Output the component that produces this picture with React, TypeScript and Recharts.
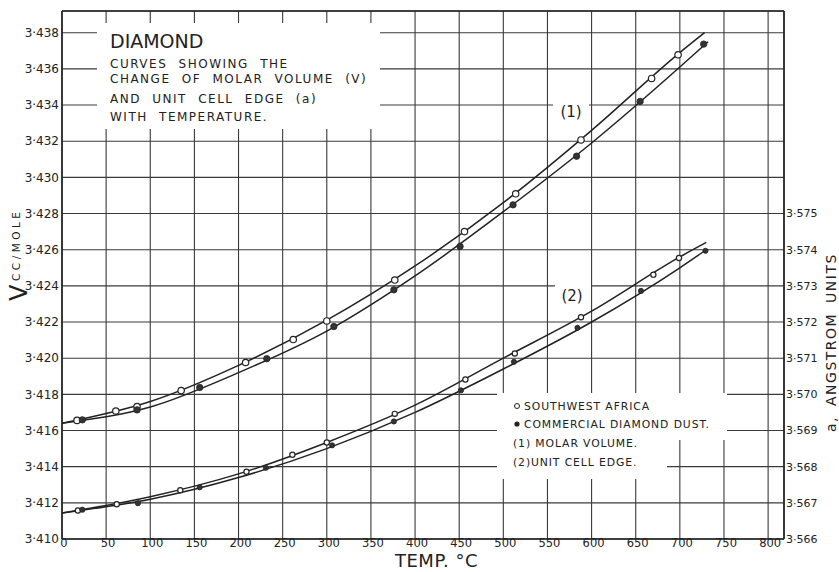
import React from 'react';
import { ComposedChart, Line, XAxis, YAxis, CartesianGrid, ReferenceLine } from 'recharts';

// axis ticks
const tempTicks = [0, 50, 100, 150, 200, 250, 300, 350, 400, 450, 500, 550, 600, 650, 700, 750, 800];
const volTicks = [3.41, 3.412, 3.414, 3.416, 3.418, 3.42, 3.422, 3.424, 3.426, 3.428, 3.43, 3.432, 3.434, 3.436, 3.438];
const edgeTicks = [3.566, 3.567, 3.568, 3.569, 3.57, 3.571, 3.572, 3.573, 3.574, 3.575];

const TEMP_MAX = 818;
const VOL_MIN = 3.41;
const VOL_MAX = 3.4392;
const EDGE_MIN = 3.566;
const EDGE_MAX = 3.5806;

// (1) molar volume, cc/mole
const molarSwAfricaT = [17, 61, 85, 135, 208, 262, 300, 377, 456, 514, 588, 668, 698];
const molarSwAfricaV = [3.41656, 3.41708, 3.41732, 3.41821, 3.41976, 3.42103, 3.42206, 3.42432, 3.427, 3.42909, 3.43207, 3.43547, 3.43678];
const molarDustT = [23, 85, 156, 232, 308, 376, 451, 511, 583, 655, 727];
const molarDustV = [3.41659, 3.41714, 3.41838, 3.41997, 3.42175, 3.42378, 3.42618, 3.42848, 3.43117, 3.4342, 3.43737];

// (2) unit cell edge, angstrom
const edgeSwAfricaT = [18, 62, 134, 209, 261, 300, 377, 457, 513, 588, 670, 699];
const edgeSwAfricaA = [3.56679, 3.56696, 3.56735, 3.56786, 3.56833, 3.56867, 3.56946, 3.57041, 3.57113, 3.57213, 3.57331, 3.57377];
const edgeDustT = [23, 86, 156, 231, 306, 376, 452, 512, 584, 656, 729];
const edgeDustA = [3.56681, 3.56699, 3.56743, 3.56797, 3.56859, 3.56925, 3.57011, 3.5709, 3.57184, 3.57286, 3.57397];

// drawn curves
const molarUpperT = [0, 100, 200, 300, 400, 500, 600, 700, 728];
const molarUpperV = [3.4164, 3.4176, 3.4196, 3.4221, 3.4251, 3.4286, 3.4326, 3.4369, 3.438];
const molarLowerT = [0, 100, 200, 300, 400, 500, 600, 700, 732];
const molarLowerV = [3.4164, 3.4173, 3.4192, 3.4215, 3.42455, 3.4281, 3.4319, 3.4361, 3.4375];
const edgeUpperT = [0, 100, 200, 300, 400, 500, 600, 700, 730];
const edgeUpperA = [3.56672, 3.56717, 3.5678, 3.56867, 3.5697, 3.571, 3.5723, 3.5738, 3.5742];
const edgeLowerT = [0, 100, 200, 300, 400, 500, 600, 700, 730];
const edgeLowerA = [3.56672, 3.5671, 3.5677, 3.5685, 3.5695, 3.5707, 3.572, 3.5735, 3.574];

const pairs = (ts: number[], ys: number[]) => ts.map((t, i) => ({ t, y: ys[i] }));

const FONT = '"DejaVu Sans", sans-serif';
const INK = '#222';

const fmt = (v: number) => v.toFixed(3).replace('.', '\u00b7');

const openDot = (r: number) => (p: any) => (
  <circle key={`o${p.index}`} cx={p.cx} cy={p.cy} r={r} fill="#fff" stroke={INK} strokeWidth={1.2} />
);
const solidDot = (r: number) => (p: any) => (
  <circle key={`f${p.index}`} cx={p.cx} cy={p.cy} r={r} fill="#333" stroke={INK} strokeWidth={0.8} />
);

export default function App() {
  const fitLine = (data: any[], axis: string | number, key: string) => (
    <Line
      key={key}
      data={data}
      dataKey="y"
      yAxisId={axis}
      type="monotone"
      stroke={INK}
      strokeWidth={1.5}
      dot={false}
      activeDot={false}
      isAnimationActive={false}
    />
  );
  const marks = (data: any[], axis: string | number, dot: any, key: string) => (
    <Line
      key={key}
      data={data}
      dataKey="y"
      yAxisId={axis}
      stroke="none"
      dot={dot}
      activeDot={false}
      isAnimationActive={false}
    />
  );

  const small = { fontFamily: FONT, fill: INK };

  return (
    <div style={{ position: 'absolute', left: 0, top: 0, width: 839, height: 572, background: '#fff' }}>
      <ComposedChart width={839} height={572} margin={{ top: 11, right: 0, bottom: 0, left: 0 }}>
        <CartesianGrid stroke="#3a3a3a" strokeWidth={1.1} />
        <XAxis
          type="number"
          dataKey="t"
          domain={[0, TEMP_MAX]}
          ticks={tempTicks}
          height={33}
          tickLine={false}
          tickSize={0}
          tickMargin={0}
          axisLine={{ stroke: INK, strokeWidth: 1.6 }}
          tick={{ ...small, fontSize: 11.5, dx: 2 }}
          allowDataOverflow
        />
        <YAxis
          domain={[VOL_MIN, VOL_MAX]}
          ticks={volTicks}
          width={62}
          tickFormatter={fmt}
          tickLine={false}
          tickSize={0}
          tickMargin={3}
          axisLine={{ stroke: INK, strokeWidth: 1.6 }}
          tick={{ ...small, fontSize: 12 }}
          allowDataOverflow
        />
        <YAxis
          yAxisId="edge"
          orientation="right"
          domain={[EDGE_MIN, EDGE_MAX]}
          ticks={edgeTicks}
          width={55}
          tickFormatter={fmt}
          tickLine={false}
          tickSize={0}
          tickMargin={2}
          axisLine={{ stroke: INK, strokeWidth: 1.6 }}
          tick={{ ...small, fontSize: 11 }}
          allowDataOverflow
        />
        <ReferenceLine y={VOL_MAX} stroke={INK} strokeWidth={1.6} />

        {fitLine(pairs(molarUpperT, molarUpperV), 0, 'mu')}
        {fitLine(pairs(molarLowerT, molarLowerV), 0, 'ml')}
        {fitLine(pairs(edgeUpperT, edgeUpperA), 'edge', 'eu')}
        {fitLine(pairs(edgeLowerT, edgeLowerA), 'edge', 'el')}

        {marks(pairs(molarSwAfricaT, molarSwAfricaV), 0, openDot(3.2), 'ms')}
        {marks(pairs(molarDustT, molarDustV), 0, solidDot(3.2), 'md')}
        {marks(pairs(edgeSwAfricaT, edgeSwAfricaA), 'edge', openDot(2.6), 'es')}
        {marks(pairs(edgeDustT, edgeDustA), 'edge', solidDot(2.6), 'ed')}
      </ComposedChart>

      <svg width={839} height={572} style={{ position: 'absolute', left: 0, top: 0, pointerEvents: 'none' }}>
        {/* white patches the draftsman left round the lettering */}
        <rect x={97} y={23} width={283} height={106} fill="#fff" />
        <rect x={497} y={393} width={170} height={86} fill="#fff" />
        <rect x={667} y={393} width={60} height={47} fill="#fff" />
        <rect x={553} y={97} width={36} height={28} fill="#fff" />
        <rect x={555} y={281} width={36} height={26} fill="#fff" />

        <g fontFamily={FONT} fill={INK}>
          <text x={110} y={48} fontSize={19}>DIAMOND</text>
          <g fontSize={12} letterSpacing={1.5} wordSpacing={6}>
            <text x={110} y={67.7}>CURVES SHOWING THE</text>
            <text x={110} y={83.4}>CHANGE OF MOLAR VOLUME (V)</text>
            <text x={110} y={102.7}>AND UNIT CELL EDGE (a)</text>
            <text x={110} y={121}>WITH TEMPERATURE.</text>
          </g>

          <text x={571} y={117} fontSize={15} textAnchor="middle">(1)</text>
          <text x={572} y={301} fontSize={15} textAnchor="middle">(2)</text>

          <circle cx={517} cy={406} r={2.5} fill="#fff" stroke={INK} strokeWidth={1} />
          <circle cx={517} cy={424} r={2.6} fill="#222" />
          <g fontSize={10.8} letterSpacing={0.9}>
            <text x={524} y={410}>SOUTHWEST AFRICA</text>
            <text x={524} y={428}>COMMERCIAL DIAMOND DUST.</text>
            <text x={513} y={447}>(1) MOLAR VOLUME.</text>
            <text x={513} y={466}>(2)UNIT CELL EDGE.</text>
          </g>

          <text x={395} y={567} fontSize={18} letterSpacing={0.5}>TEMP. °C</text>

          <text transform="translate(27,301) rotate(-90)" fontSize={24}>V</text>
          <text transform="translate(19.5,281) rotate(-90)" fontSize={10.5} letterSpacing={3.5}>CC/MOLE</text>

          <text transform="translate(836,432) rotate(-90)" fontSize={14} letterSpacing={1.5} wordSpacing={4}>a, ANGSTROM UNITS</text>
        </g>
      </svg>
    </div>
  );
}
